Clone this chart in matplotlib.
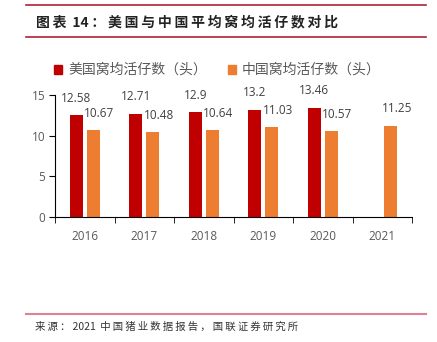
import numpy as np
import matplotlib.pyplot as plt
from matplotlib.lines import Line2D
from matplotlib.patches import Patch

plt.rcParams['font.family'] = ['Noto Sans CJK SC', 'DejaVu Sans']

years = ['2016', '2017', '2018', '2019', '2020', '2021']
us_vals = [12.58, 12.71, 12.9, 13.2, 13.46, np.nan]
cn_vals = [10.67, 10.48, 10.64, 11.03, 10.57, 11.25]
us_label = '美国窝均活仔数（头）'
cn_label = '中国窝均活仔数（头）'
title = '图表 14：美国与中国平均窝均活仔数对比'
source = '来源：2021 中国猪业数据报告，国联证券研究所'

red = '#C00000'
orange = '#ED7D31'
txt = '#595959'


def spaced(s):
    # loose letter spacing between CJK characters, like the report typesetting
    out = s[0]
    for a, b in zip(s, s[1:]):
        if not (a.isascii() and b.isascii()):
            out += '\u2009'
        out += b
    return out


fig = plt.figure(figsize=(4.37, 3.42), dpi=100)
ax = fig.add_axes([55 / 437, 1 - 217 / 342, 357 / 437, 122 / 342])

x = np.arange(len(years))
w = 0.22
off = 0.14
ax.bar(x - off, us_vals, w, color=red)
ax.bar(x + off, cn_vals, w, color=orange)

for xi, v in zip(x, us_vals):
    if not np.isnan(v):
        ax.annotate(f'{v:g}', (xi - off, v), xytext=(0, 12), textcoords='offset points',
                    ha='center', va='center', fontsize=8.5, color='#404040', family='Open Sans')
for xi, v in zip(x, cn_vals):
    ax.annotate(f'{v:g}', (xi + off, v), xytext=(4.5, 12), textcoords='offset points',
                ha='center', va='center', fontsize=8.5, color='#404040', family='Open Sans')

ax.set_xlim(-0.5, len(years) - 0.5)
ax.set_ylim(0, 15)
ax.set_yticks([0, 5, 10, 15])
ax.set_xticks(x)
ax.set_xticklabels(years)
ax.set_xticks(np.arange(-0.5, len(years)), minor=True)
ax.tick_params(axis='x', which='major', length=0, pad=9, labelsize=8.5, labelcolor=txt)
ax.tick_params(axis='x', which='minor', length=4, direction='out', color='black')
ax.tick_params(axis='y', length=4, direction='out', labelsize=8.5, labelcolor=txt, pad=3)
for lab in ax.get_xticklabels() + ax.get_yticklabels():
    lab.set_family('Open Sans')
ax.spines['top'].set_visible(False)
ax.spines['right'].set_visible(False)
ax.spines['left'].set_color('black')
ax.spines['bottom'].set_color('black')

handles = [Patch(color=red), Patch(color=orange)]
fig.legend(handles, [us_label, cn_label], loc='center', bbox_to_anchor=(0.497, 1 - 70 / 342),
           ncol=2, frameon=False, fontsize=10, handlelength=0.6, handleheight=0.6,
           handletextpad=0.4, columnspacing=1.5, labelcolor=txt)

# header and footer rules
fig.add_artist(Line2D([26 / 437, 426 / 437], [1 - 5 / 342] * 2, color='#B0203A', lw=1.2))
fig.add_artist(Line2D([26 / 437, 426 / 437], [1 - 37 / 342] * 2, color='#B0203A', lw=1.2))
fig.add_artist(Line2D([26 / 437, 426 / 437], [1 - 314 / 342] * 2, color='#E08090', lw=1.5))

fig.text(36 / 437, 1 - 22 / 342, spaced(title), fontsize=10,
         fontweight='bold', va='center', ha='left', color='#222222')
fig.text(35 / 437, 1 - 327 / 342, spaced(source), fontsize=7.5,
         va='center', ha='left', color='#333333')

fig.savefig('out.png', dpi=100)
